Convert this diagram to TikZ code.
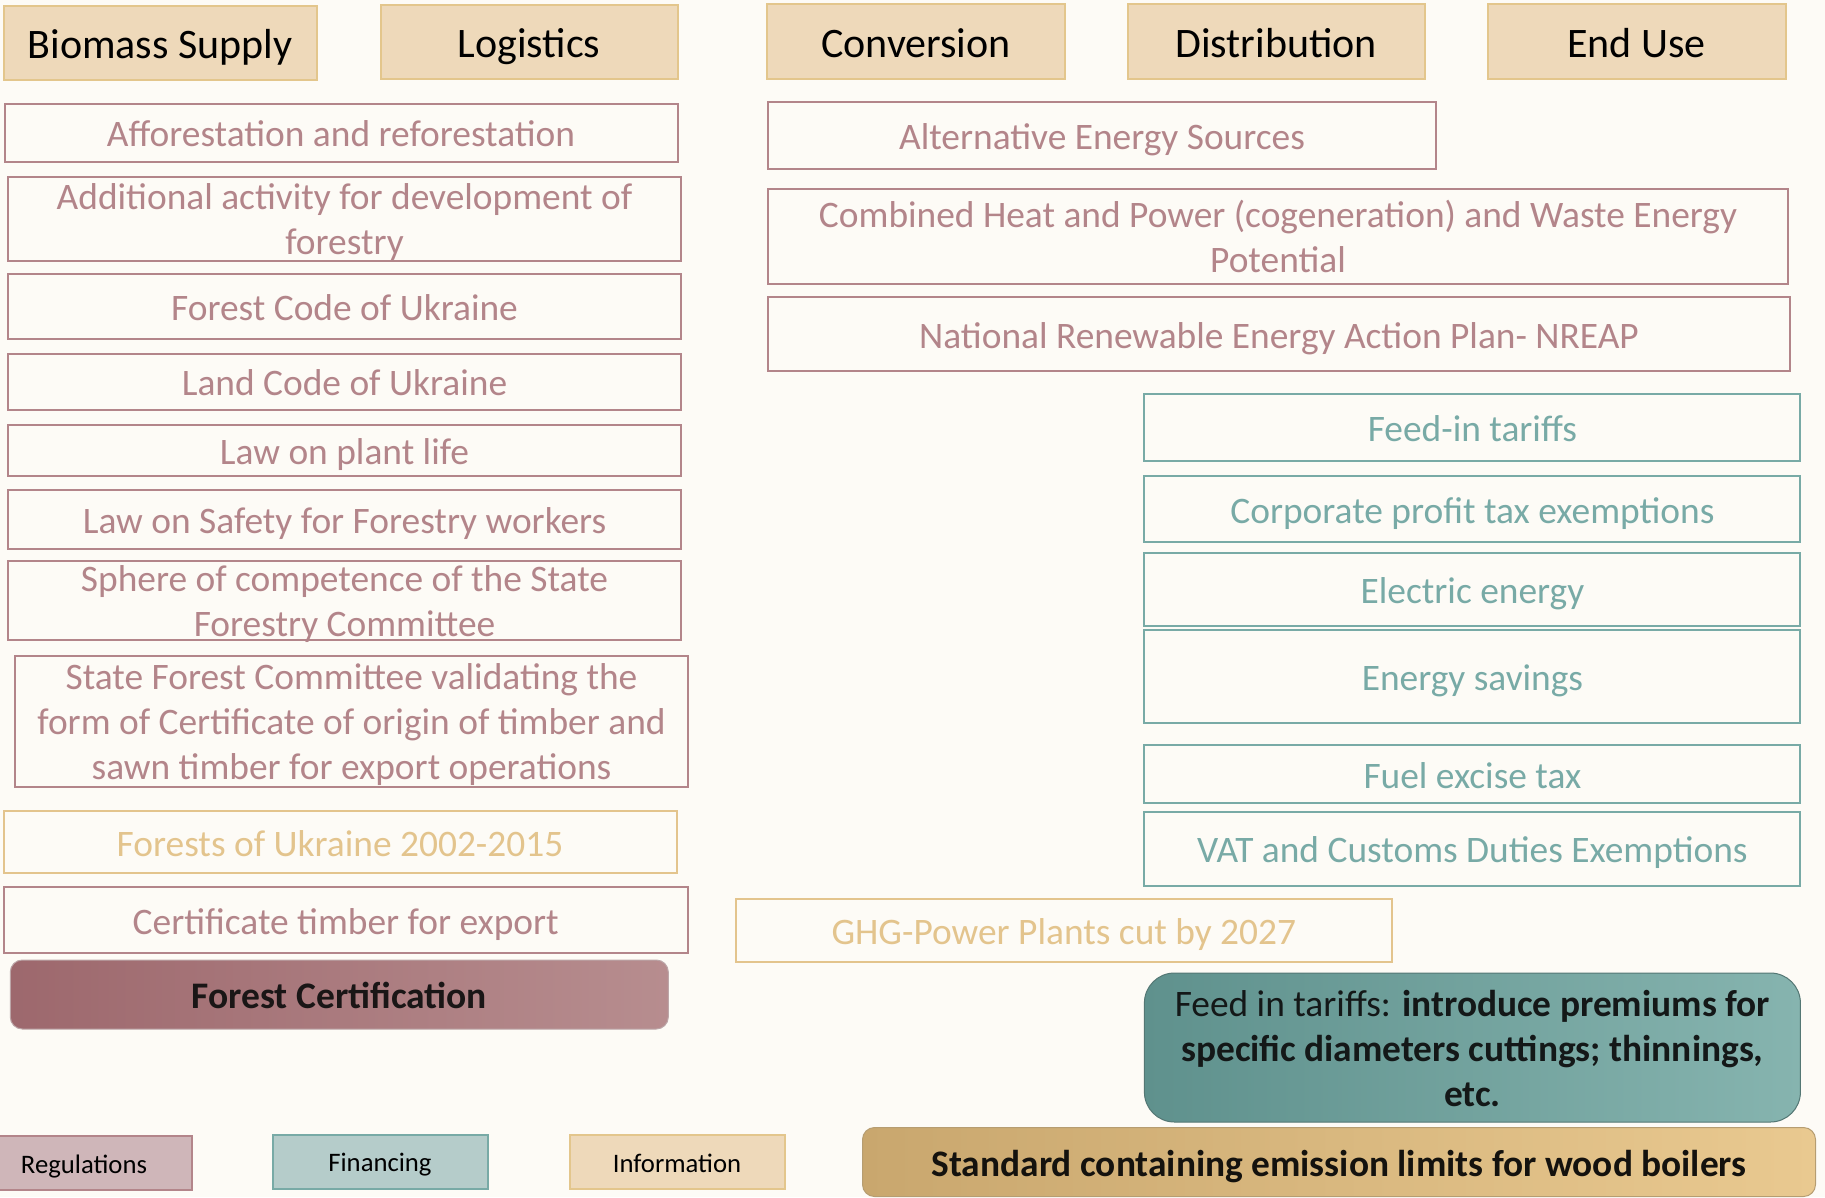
\documentclass[tikz,border=0pt]{standalone}
\usepackage{fontspec}
\setmainfont{Carlito}
\definecolor{bg}{HTML}{FDFBF6}
\definecolor{hdrf}{HTML}{EED9BA}
\definecolor{hdrb}{HTML}{E3C68C}
\definecolor{mauve}{HTML}{B3858A}
\definecolor{teal}{HTML}{78AAA6}
\definecolor{gold}{HTML}{E3C48D}
\definecolor{regf}{HTML}{CFB6B9}
\definecolor{finf}{HTML}{B5CCCA}
\newcommand\nodestrut{\rule[-7.5pt]{0pt}{43pt}}
\newcommand\mlines[1]{\begin{tabular}[t]{@{}c@{}}#1\end{tabular}}
\tikzset{
  base/.style={line width=2pt, inner sep=0pt, align=center,
    font=\fontsize{37.4}{45}\selectfont\def\nodestrut{\rule[-7.5pt]{0pt}{43pt}},
    execute at begin node={\nodestrut}, execute at end node={\nodestrut}},
  mltwo/.style={align=none, text height=30pt, text depth=48pt},
  mlthree/.style={align=none, text height=30pt, text depth=93pt},
  hdr/.style={base, draw=hdrb, fill=hdrf, text=black,
    font=\fontsize{42}{50}\selectfont\def\nodestrut{\rule[-9pt]{0pt}{49pt}}},
  mbox/.style={base, draw=mauve, text=mauve},
  tbox/.style={base, draw=teal, text=teal},
  gbox/.style={base, draw=gold, text=gold},
  leg/.style={base, font=\fontsize{26.7}{32}\selectfont\def\nodestrut{\rule[-4pt]{0pt}{29pt}},
    text=black, minimum width=215, minimum height=54},
}
\begin{document}
\begin{tikzpicture}[x=1pt,y=-1pt]
\useasboundingbox (0,0) rectangle (1825,1197);
\fill[bg] (0,0) rectangle (1825,1197);
\begin{scope}
\clip (0,0) rectangle (1825,1197);
% headers
\node[hdr, minimum width=313, minimum height=74] (h1) at (160,43) {Biomass Supply};
\node[hdr, minimum width=297, minimum height=74] (h2) at (529,42) {Logistics};
\node[hdr, minimum width=298, minimum height=75] (h3) at (916,41.5) {Conversion};
\node[hdr, minimum width=297, minimum height=75] (h4) at (1276,41.5) {Distribution};
\node[hdr, minimum width=298, minimum height=75] (h5) at (1636.5,41.5) {End Use};
% left column
\node[mbox, minimum width=673, minimum height=58] (l1) at (341,132.7) {Afforestation and reforestation};
\node[mbox, mltwo, minimum width=673, minimum height=84] (l2) at (344.5,218.8) {\mlines{Additional activity for development of\\forestry}};
\node[mbox, minimum width=673, minimum height=65] (l3) at (344.5,306) {Forest Code of Ukraine};
\node[mbox, minimum width=673, minimum height=56] (l4) at (344.5,381.8) {Land Code of Ukraine};
\node[mbox, minimum width=673, minimum height=51] (l5) at (344.5,450.4) {Law on plant life};
\node[mbox, minimum width=673, minimum height=59] (l6) at (344.5,519.7) {Law on Safety for Forestry workers};
\node[mbox, mltwo, minimum width=673, minimum height=79] (l7) at (344.5,600.5) {\mlines{Sphere of competence of the State\\Forestry Committee}};
\node[mbox, mlthree, minimum width=673, minimum height=131] (l8) at (351.5,721) {\mlines{State Forest Committee validating the\\form of Certificate of origin of timber and\\sawn timber for export operations}};
\node[gbox, minimum width=673, minimum height=62] (l9) at (340,842) {Forests of Ukraine 2002-2015};
\node[mbox, minimum width=684, minimum height=66] (l10) at (345.7,920) {Certificate timber for export};
\node[base, rounded corners=12pt, draw=mauve!80!black!60, line width=1pt, left color={rgb,255:red,157;green,104;blue,109}, right color={rgb,255:red,183;green,141;blue,143}, text={rgb,255:red,26;green,22;blue,22}, font=\fontsize{37.5}{45}\selectfont\bfseries, minimum width=658, minimum height=69] (l11) at (339.3,994.5) {Forest Certification};
% right column
\node[mbox, minimum width=668, minimum height=67] (r1) at (1102,135) {Alternative Energy Sources};
\node[mbox, mltwo, minimum width=1020, minimum height=95] (r2) at (1278,236.3) {\mlines{Combined Heat and Power (cogeneration) and Waste Energy\\Potential}};
\node[mbox, minimum width=1022, minimum height=74] (r3) at (1279,334) {National Renewable Energy Action Plan- NREAP};
\node[tbox, minimum width=656, minimum height=67] (t1) at (1472.4,427) {Feed-in tariffs};
\node[tbox, minimum width=656, minimum height=66] (t2) at (1472.4,509) {Corporate profit tax exemptions};
\node[tbox, minimum width=656, minimum height=73] (t3) at (1472.4,589.5) {Electric energy};
\node[tbox, minimum width=656, minimum height=93] (t4) at (1472.4,676) {Energy savings};
\node[tbox, minimum width=656, minimum height=58] (t5) at (1472.4,774) {Fuel excise tax};
\node[tbox, minimum width=656, minimum height=74] (t6) at (1472.4,848.5) {VAT and Customs Duties Exemptions};
\node[gbox, minimum width=656, minimum height=63] (g1) at (1063.8,930) {GHG-Power Plants cut by 2027};
\node[base, mlthree, rounded corners=30pt, draw=teal!70!black, line width=1pt, left color={rgb,255:red,95;green,145;blue,141}, right color={rgb,255:red,134;green,180;blue,175}, text={rgb,255:red,20;green,24;blue,24}, minimum width=656, minimum height=149] (f1) at (1472.4,1047.5) {\mlines{Feed in tariffs: \textbf{introduce premiums for}\\\textbf{specific diameters cuttings; thinnings,}\\\textbf{etc.}}};
\node[base, rounded corners=12pt, draw=gold!80!black, line width=1pt, left color={rgb,255:red,201;green,167;blue,110}, right color={rgb,255:red,233;green,201;blue,144}, text={rgb,255:red,20;green,18;blue,14}, font=\fontsize{37.4}{45}\selectfont\bfseries, minimum width=953, minimum height=69] (s1) at (1339,1162) {Standard containing emission limits for wood boilers};
% legend
\node[leg, draw=mauve, fill=regf] (lg1) at (84,1162.8) {Regulations};
\node[leg, draw=teal, fill=finf] (lg2) at (380,1161.6) {Financing};
\node[leg, draw=hdrb, fill=hdrf] (lg3) at (677,1161.6) {Information};
\end{scope}
\end{tikzpicture}
\end{document}
